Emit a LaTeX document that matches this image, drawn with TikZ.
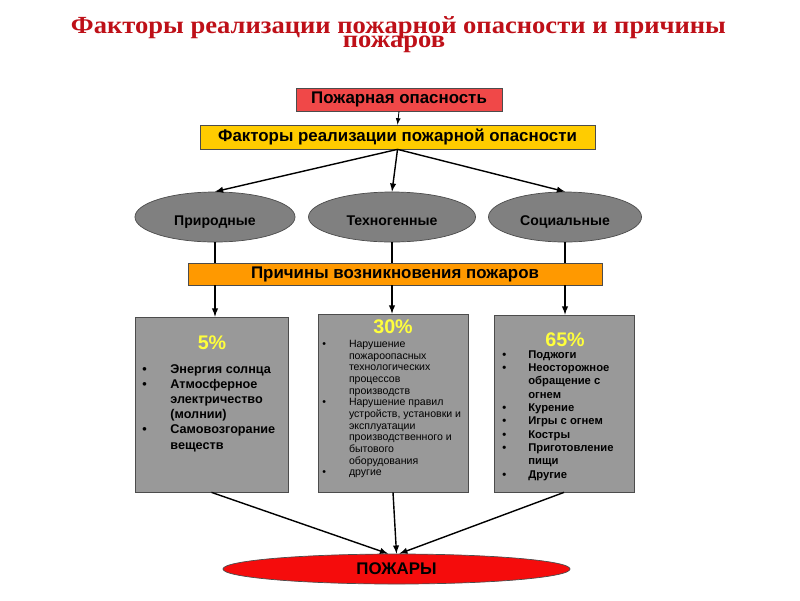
\documentclass[tikz,border=0pt]{standalone}
\usepackage{fontspec}
\setmainfont{Liberation Sans}
\newfontfamily\titlefont[FakeStretch=1.08]{Liberation Serif}
\usetikzlibrary{shapes.geometric}
\tikzset{>=latex}
\definecolor{titlered}{RGB}{190,16,24}
\definecolor{alarmred}{RGB}{240,72,72}
\definecolor{gold}{RGB}{255,204,0}
\definecolor{amber}{RGB}{255,153,0}
\definecolor{pctyellow}{RGB}{255,255,60}
\definecolor{ovalgray}{RGB}{128,128,128}
\definecolor{boxgray}{RGB}{153,153,153}
\definecolor{firered}{RGB}{245,12,12}
\newcommand{\bl}[1]{\makebox[#1][l]{\textbullet}}
\newcommand{\nb}[1]{\hspace*{#1}}

\begin{document}
\begin{tikzpicture}[x=0.025cm,y=-0.025cm,
    bar/.style={draw=black!70,line width=0.5pt,inner sep=0,font=\bfseries\fontsize{12}{14}\selectfont},
    oval/.style={ellipse,draw=black!70,line width=0.5pt,fill=ovalgray,inner sep=0,minimum height=1.25cm,text height=12pt,text depth=0pt,font=\bfseries\fontsize{10}{12}\selectfont},
    listbox/.style={draw=black!70,line width=0.5pt,fill=boxgray,inner sep=0},
    pct/.style={text=pctyellow,inner sep=0,font=\bfseries\fontsize{14}{16}\selectfont},
    items/.style={anchor=north west,inner sep=0,align=left},
    link/.style={->,line width=1pt}]
    \useasboundingbox (0,0) rectangle (800,600);

    % Title
    \node[anchor=base,text=titlered,font=\titlefont\bfseries\fontsize{17.5}{17.5}\selectfont] (title1) at (398.5,33) {Факторы реализации пожарной опасности и причины};
    \node[anchor=base,text=titlered,font=\titlefont\bfseries\fontsize{17.5}{17.5}\selectfont] (title2) at (394,47) {пожаров};

    % Top bars
    \node[bar,fill=alarmred,minimum width=5.15cm,minimum height=0.575cm] (danger) at (399,99.5) {Пожарная опасность};
    \node[bar,fill=gold,minimum width=9.875cm,minimum height=0.6cm] (factors) at (397.5,137) {Факторы реализации пожарной опасности};
    \draw[->,line width=0.6pt] (danger.south) -- (factors.north);

    % Three kinds of factors
    \node[oval,minimum width=4cm] (natural) at (215,217) {Природные};
    \node[oval,minimum width=4.175cm] (techno) at (392,217) {Техногенные};
    \node[oval,minimum width=3.825cm] (social) at (565,217) {Социальные};
    \draw[link] (factors.south) -- (natural.north);
    \draw[link] (factors.south) -- (techno.north);
    \draw[link] (factors.south) -- (social.north);

    % Causes bar
    \node[bar,fill=amber,minimum width=10.35cm,minimum height=0.55cm] (causes) at (395,274) {Причины возникновения пожаров};
    \draw[line width=1pt] (natural.south) -- (natural.south |- causes.north);
    \draw[line width=1pt] (techno.south) -- (techno.south |- causes.north);
    \draw[line width=1pt] (social.south) -- (social.south |- causes.north);

    % Boxes with shares
    \node[listbox,minimum width=3.825cm,minimum height=4.375cm] (nbox) at (211.5,404.5) {};
    \node[listbox,minimum width=3.75cm,minimum height=4.45cm] (tbox) at (393,403) {};
    \node[listbox,minimum width=3.5cm,minimum height=4.425cm] (sbox) at (564,403.5) {};
    \draw[link] (causes.south -| natural.south) -- (nbox.north -| natural.south);
    \draw[link] (causes.south -| techno.south) -- (tbox.north -| techno.south);
    \draw[link] (causes.south -| social.south) -- (sbox.north -| social.south);

    \node[pct] (npct) at (212,343) {5\%};
    \node[pct] (tpct) at (393,327) {30\%};
    \node[pct] (spct) at (565,340) {65\%};

    \node[items,font=\bfseries\fontsize{9}{10.8}\selectfont] (nlist) at (142,364) {%
        \bl{20pt}Энергия солнца\\
        \bl{20pt}Атмосферное\\
        \nb{20pt}электричество\\
        \nb{20pt}(молнии)\\
        \bl{20pt}Самовозгорание\\
        \nb{20pt}веществ};
    \node[items,font=\fontsize{7.5}{8.3}\selectfont] (tlist) at (322,340) {%
        \bl{19pt}Нарушение\\
        \nb{19pt}пожароопасных\\
        \nb{19pt}технологических\\
        \nb{19pt}процессов\\
        \nb{19pt}производств\\
        \bl{19pt}Нарушение правил\\
        \nb{19pt}устройств, установки и\\
        \nb{19pt}эксплуатации\\
        \nb{19pt}производственного и\\
        \nb{19pt}бытового\\
        \nb{19pt}оборудования\\
        \bl{19pt}другие};
    \node[items,font=\bfseries\fontsize{8}{9.5}\selectfont] (slist) at (502,350) {%
        \bl{18.5pt}Поджоги\\
        \bl{18.5pt}Неосторожное\\
        \nb{18.5pt}обращение с\\
        \nb{18.5pt}огнем\\
        \bl{18.5pt}Курение\\
        \bl{18.5pt}Игры с огнем\\
        \bl{18.5pt}Костры\\
        \bl{18.5pt}Приготовление\\
        \nb{18.5pt}пищи\\
        \bl{18.5pt}Другие};

    % Fires
    \node[ellipse,draw=black!70,line width=0.5pt,fill=firered,inner sep=0,minimum width=8.675cm,minimum height=0.75cm,font=\bfseries\fontsize{12}{14}\selectfont] (fires) at (396.5,569) {ПОЖАРЫ};
    \draw[link] (nbox.south) -- ([xshift=-6pt]fires.north);
    \draw[link] (tbox.south) -- (fires.north);
    \draw[link] (sbox.south) -- ([xshift=2pt]fires.north);
\end{tikzpicture}
\end{document}
